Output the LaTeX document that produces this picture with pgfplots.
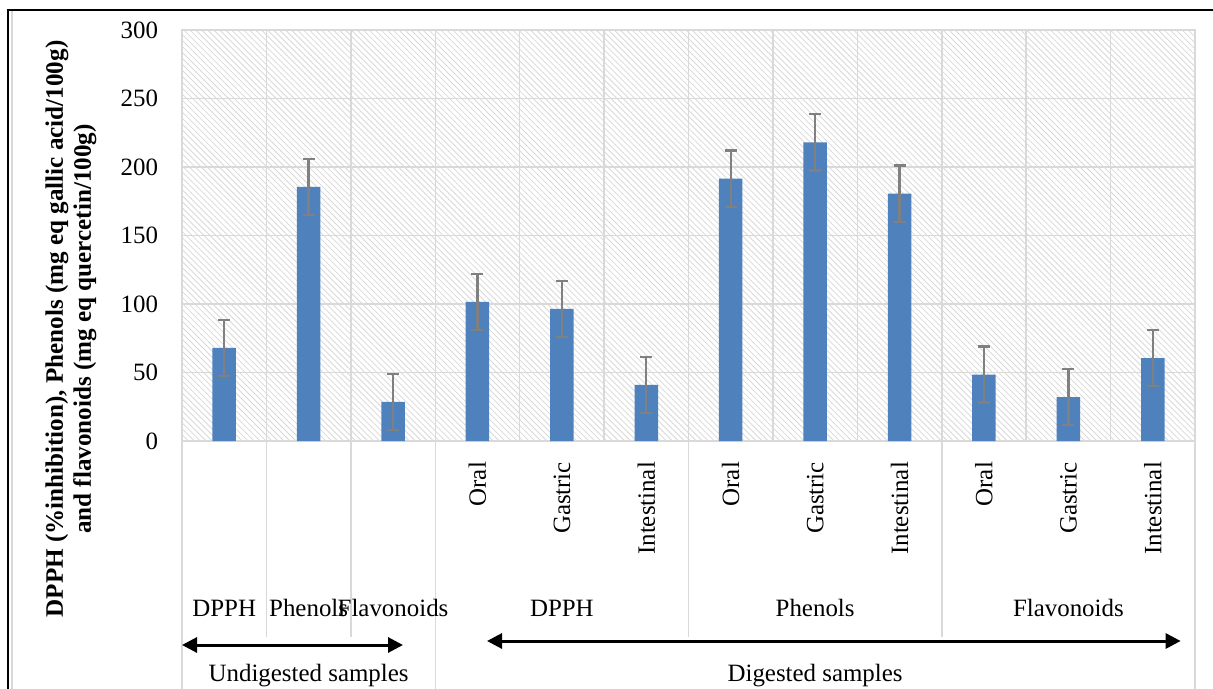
\documentclass[border=0pt]{standalone}
\usepackage{fontspec}
\setmainfont{Liberation Serif}
\usepackage{pgfplots}
\pgfplotsset{compat=1.18}
\usetikzlibrary{patterns,arrows.meta}
\definecolor{barblue}{HTML}{4F81BD}
\definecolor{gridgray}{HTML}{D9D9D9}
\definecolor{errgray}{HTML}{808080}
\pgfplotstableread{
x y e
0 68 20.5
1 185.5 20.5
2 28.5 20.5
3 101.5 20.5
4 96.5 20.5
5 41 20.5
6 191.5 20.5
7 218 20.5
8 180.5 20.5
9 48.5 20.5
10 32 20.5
11 60.5 20.5
}\datatable
\begin{document}
\begin{tikzpicture}
\path[use as bounding box] (0,0) rectangle (606.5bp,344.5bp);
\draw[line width=1bp] (4.2bp,0) -- (4.2bp,339.5bp) -- (606.5bp,339.5bp);
\draw[gridgray, line width=0.8bp] (5.9bp,0) -- (5.9bp,338.9bp);
\begin{axis}[
  at={(91bp,124bp)}, anchor=south west,
  scale only axis, width=506.5bp, height=205.5bp,
  xmin=-0.5, xmax=11.5, ymin=0, ymax=300,
  ytick={0,50,...,300},
  xtick={0,...,11},
  xticklabels={,,,Oral,Gastric,Intestinal,Oral,Gastric,Intestinal,Oral,Gastric,Intestinal},
  minor xtick={0.5,1.5,...,10.5},
  xminorgrids, ymajorgrids,
  major tick length=0pt, minor tick length=0pt,
  grid style={gridgray, line width=0.75bp},
  minor grid style={gridgray, line width=0.75bp},
  axis line style={gridgray, line width=0.75bp},
  axis background/.style={pattern=north west lines, pattern color=black!15},
  /pgf/number format/assume math mode=true,
  ticklabel style={font=\fontsize{12.5}{14}\selectfont},
  yticklabel style={xshift=-8.5bp},
  xticklabel style={rotate=90, anchor=east, xshift=-7bp},
  ylabel={DPPH (\%inhibition), Phenols (mg eq gallic acid/100g)\\and flavonoids (mg eq quercetin/100g)},
  ylabel style={at={(axis description cs:-0.1096,0.2725)}, anchor=center, align=center, font=\fontsize{12.6}{14}\selectfont\bfseries},
  ybar, bar width=11.75bp,
  clip=false,
]
\addplot[fill=barblue, draw=none,
  error bars/.cd, y dir=both, y explicit,
  error bar style={errgray, line width=1.2bp},
  error mark options={rotate=90, errgray, mark size=3bp, line width=1.2bp}]
  table[x=x, y=y, y error=e] {\datatable};
% category separators below the axis
\draw[gridgray, line width=0.75bp] (axis cs:0.5,0) -- ([yshift=-98bp]axis cs:0.5,0);
\draw[gridgray, line width=0.75bp] (axis cs:1.5,0) -- ([yshift=-98bp]axis cs:1.5,0);
\draw[gridgray, line width=0.75bp] (axis cs:5.5,0) -- ([yshift=-98bp]axis cs:5.5,0);
\draw[gridgray, line width=0.75bp] (axis cs:8.5,0) -- ([yshift=-98bp]axis cs:8.5,0);
\draw[gridgray, line width=0.75bp] (axis cs:-0.5,0) -- ([yshift=-124bp]axis cs:-0.5,0);
\draw[gridgray, line width=0.75bp] (axis cs:2.5,0) -- ([yshift=-124bp]axis cs:2.5,0);
\draw[gridgray, line width=0.75bp] (axis cs:11.5,0) -- ([yshift=-124bp]axis cs:11.5,0);
% level 2 and 3 labels
\begin{scope}[every node/.style={font=\fontsize{12.5}{14}\selectfont, inner sep=0pt}]
\node at ([yshift=-83.5bp]axis cs:0,0) {DPPH};
\node at ([yshift=-83.5bp]axis cs:1,0) {Phenols};
\node at ([yshift=-83.5bp]axis cs:2,0) {Flavonoids};
\node at ([yshift=-83.5bp]axis cs:4,0) {DPPH};
\node at ([yshift=-83.5bp]axis cs:7,0) {Phenols};
\node at ([yshift=-83.5bp]axis cs:10,0) {Flavonoids};
\node at ([yshift=-117.5bp]axis cs:1,0) {Undigested samples};
\node at ([yshift=-117.5bp]axis cs:7,0) {Digested samples};
\end{scope}
\draw[line width=1.5bp, {Triangle[length=7.5bp,width=7.5bp]}-{Triangle[length=7.5bp,width=7.5bp]}]
  ([yshift=-102bp]axis cs:-0.5,0) -- ([yshift=-102bp]axis cs:2.118,0);
\draw[line width=1.5bp, {Triangle[length=7.5bp,width=7.5bp]}-{Triangle[length=7.5bp,width=7.5bp]}]
  ([yshift=-100bp]axis cs:3.113,0) -- ([yshift=-100bp]axis cs:11.33,0);
\end{axis}
\end{tikzpicture}
\end{document}
